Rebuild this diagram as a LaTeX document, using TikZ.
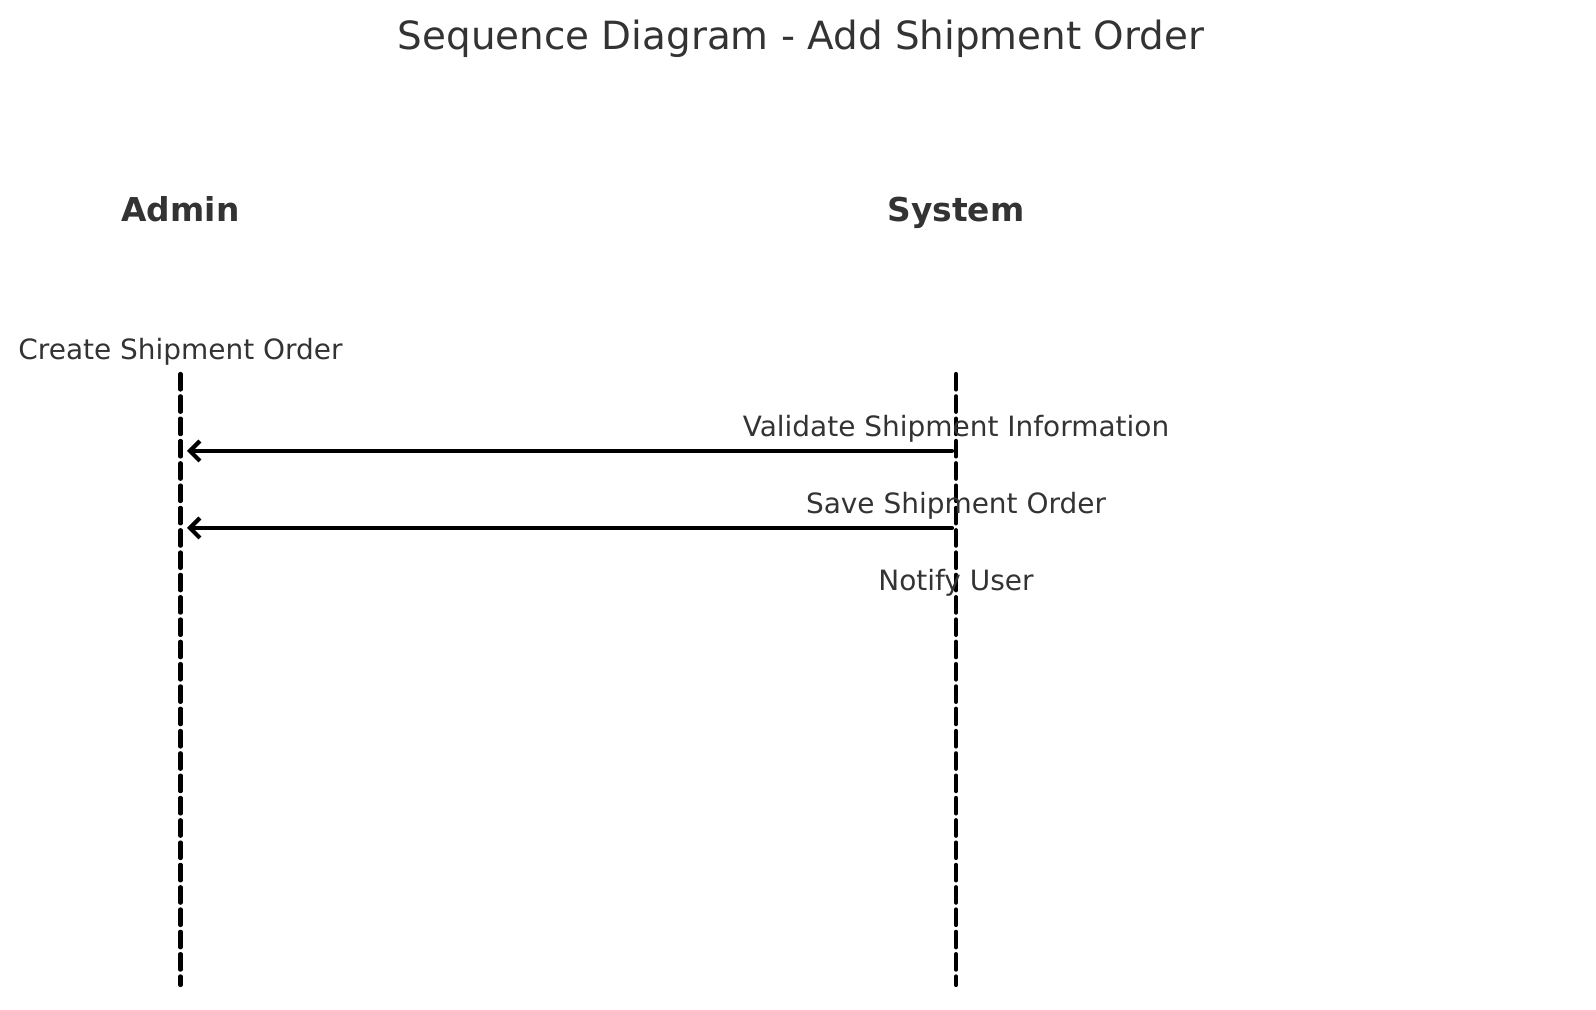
\documentclass[tikz,border=0pt]{standalone}
\usepackage{fontspec}
\setmainfont{DejaVu Sans}
\usepackage{tkz-euclide}
\usetikzlibrary{arrows.meta,calc}
\definecolor{TextClr}{RGB}{51,51,51}

\begin{document}
\begin{tikzpicture}[x=0.01cm,y=0.01cm,
  lblsize/.style={font=\fontsize{7.95}{9}\selectfont,text=TextClr,anchor=base,inner sep=0pt},
  actsize/.style={font=\fontsize{9.35}{11}\selectfont\bfseries,text=TextClr,anchor=base,inner sep=0pt},
  lifeline/.style={line width=0.042cm,color=black,dash pattern=on 0.155cm off 0.068cm},
  msgarrow/.style={line width=0.042cm,color=black,line cap=round,-{Straight Barb[length=0.1cm,width=0.2cm]}}]
\useasboundingbox (0,0) rectangle (1596,-1010);

% Lifelines of the two actors.
\tkzDefPoints{180.5/-374/At,180.5/-985/Ab,956/-374/St,956/-985/Sb}
% End points of the messages.
\tkzDefPoints{952/-451/Sa,187/-451/Aa,952/-528/Sc,187/-528/Ac}

\tkzDrawSegments[lifeline](At,Ab St,Sb)
\tkzDrawSegment[msgarrow](Sa,Aa)
\tkzDrawSegment[msgarrow](Sc,Ac)

% Title and actor names.
\node[lblsize,font=\fontsize{11.05}{13}\selectfont] (title) at (801,-50) {Sequence Diagram - Add Shipment Order};
\node[actsize] (admin) at (180.5,-222) {Admin};
\node[actsize] (system) at (956,-222) {System};

% Messages.
\node[lblsize] (create) at (180.5,-359.5) {Create Shipment Order};
\node[lblsize] (validate) at (956,-437) {Validate Shipment Information};
\node[lblsize] (save) at (956,-514) {Save Shipment Order};
\node[lblsize] (notify) at (956,-591) {Notify User};

\end{tikzpicture}
\end{document}
